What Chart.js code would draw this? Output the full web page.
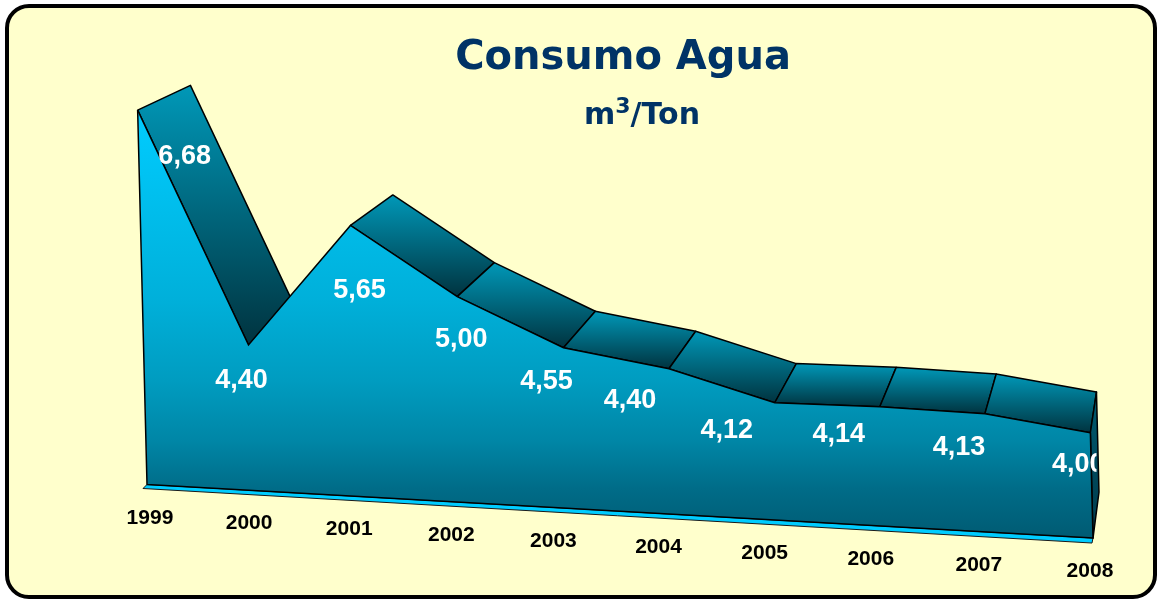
<!DOCTYPE html>
<html><head><meta charset="utf-8">
<script src="https://cdn.jsdelivr.net/npm/chart.js@4.4.1/dist/chart.umd.min.js"></script>
<style>html,body{margin:0;padding:0;background:#fff;overflow:hidden}canvas{display:block}</style>
</head><body>
<canvas id="c" width="1159" height="599"></canvas>
<script>
// ---- data ----
const years = ['1999','2000','2001','2002','2003','2004','2005','2006','2007','2008'];
const consumo = [6.68, 4.40, 5.65, 5.00, 4.55, 4.40, 4.12, 4.14, 4.13, 4.00];
const yMin = 2.95, yMax = 7.0;
const titleText = 'Consumo Agua';
const unitMain = 'm', unitSup = '3', unitRest = '/Ton';

// ---- style / perspective ----
const SHEAR_X = 0.025, SHEAR_Y = 0.0566;
const VP = {x: 1215, y: -396};
const DEPTH = 0.049;
const labelNudge = [[47,54],[-7,43],[9,73],[4,50],[-17,41],[-39,39],[-48,35],[-41,35],[-26,41],[-12,39]];
const yearNudge = [2,-4,-9,-12,-15,-15,-14,-13,-10,-4];

function fmt(v){ return v.toFixed(2).replace('.', ','); }
function tParams(chart){
  const a = chart.chartArea;
  return {a: SHEAR_X, s: SHEAR_Y, e: -SHEAR_X * a.bottom, f: -SHEAR_Y * a.left};
}
function P(t, u, v){ return {x: u + t.a * v + t.e, y: t.s * u + v + t.f}; }
function back(p){ return {x: p.x + DEPTH * (VP.x - p.x), y: p.y + DEPTH * (VP.y - p.y)}; }

function frontGradient(chart){
  const ctx = chart.ctx, area = chart.chartArea;
  const s = SHEAR_Y, Y0 = 110, Y1 = 540;
  const k = (Y1 - Y0) / (1 + s * s);
  const g = ctx.createLinearGradient(area.left, Y0, area.left + k * s, Y0 + k);
  g.addColorStop(0, '#00CCFF');
  g.addColorStop(0.44, '#00B0DA');
  g.addColorStop(0.63, '#009CC0');
  g.addColorStop(0.77, '#0086A6');
  g.addColorStop(0.88, '#006C88');
  g.addColorStop(1, '#005A72');
  return g;
}

const area3d = {
  id: 'area3d',
  beforeDraw(chart){
    const ctx = chart.ctx;
    ctx.save();
    ctx.fillStyle = '#ffffff';
    ctx.fillRect(0, 0, chart.width, chart.height);
    ctx.beginPath();
    ctx.roundRect(7, 6, 1148, 591, 22);
    ctx.fillStyle = '#FFFFCC';
    ctx.fill();
    ctx.lineWidth = 4;
    ctx.strokeStyle = '#000';
    ctx.stroke();
    ctx.restore();
  },
  beforeDatasetsDraw(chart){
    const ctx = chart.ctx, t = tParams(chart), area = chart.chartArea;
    const meta = chart.getDatasetMeta(0);
    const front = meta.data.map(pt => P(t, pt.x, pt.y));
    const backs = front.map(back);
    const bl = P(t, area.left, area.bottom), br = P(t, area.right, area.bottom);
    ctx.save();
    ctx.lineJoin = 'round';
    // floor strip
    ctx.beginPath();
    ctx.moveTo(bl.x, bl.y);
    ctx.lineTo(br.x, br.y);
    ctx.lineTo(br.x - 1, br.y + 5);
    ctx.lineTo(bl.x - 4, bl.y + 4);
    ctx.closePath();
    ctx.fillStyle = '#00CCFF';
    ctx.fill();
    ctx.lineWidth = 1;
    ctx.strokeStyle = '#1a1a1a';
    ctx.stroke();
    // top faces
    for (let i = 0; i < front.length - 1; i++){
      const A = front[i], B = front[i+1], A2 = backs[i], B2 = backs[i+1];
      const cross = (B.x - A.x) * (A2.y - A.y) - (B.y - A.y) * (A2.x - A.x);
      if (cross >= 0) continue;
      const ys = [A.y, B.y, A2.y, B2.y];
      const top = Math.min(...ys), bot = Math.max(...ys);
      const g = ctx.createLinearGradient(0, top, 0, bot);
      g.addColorStop(0, '#0098B8');
      g.addColorStop(1, '#00333F');
      ctx.beginPath();
      ctx.moveTo(A.x, A.y); ctx.lineTo(B.x, B.y); ctx.lineTo(B2.x, B2.y); ctx.lineTo(A2.x, A2.y);
      ctx.closePath();
      ctx.fillStyle = g;
      ctx.fill();
      ctx.lineWidth = 1.5;
      ctx.strokeStyle = '#000';
      ctx.stroke();
    }
    // right side face
    const R = front[front.length - 1], R2 = backs[backs.length - 1], brb = back(br);
    const gs = ctx.createLinearGradient(0, R2.y, 0, br.y);
    gs.addColorStop(0, '#005A70');
    gs.addColorStop(1, '#00394A');
    ctx.beginPath();
    ctx.moveTo(R.x, R.y); ctx.lineTo(R2.x, R2.y); ctx.lineTo(brb.x, brb.y); ctx.lineTo(br.x, br.y);
    ctx.closePath();
    ctx.fillStyle = gs;
    ctx.fill();
    ctx.lineWidth = 1.5;
    ctx.strokeStyle = '#000';
    ctx.stroke();
    ctx.restore();
    // shear for the library-drawn front face
    ctx.save();
    ctx.transform(1, t.s, t.a, 1, t.e, t.f);
  },
  afterDatasetsDraw(chart){
    const ctx = chart.ctx;
    ctx.restore();
    const t = tParams(chart), area = chart.chartArea;
    const meta = chart.getDatasetMeta(0);
    const front = meta.data.map(pt => P(t, pt.x, pt.y));
    const R2 = back(front[front.length - 1]);
    const bl = P(t, area.left, area.bottom), br = P(t, area.right, area.bottom);
    ctx.save();
    ctx.lineWidth = 1.5;
    ctx.strokeStyle = '#000';
    ctx.lineJoin = 'round';
    ctx.beginPath();
    ctx.moveTo(front[0].x, front[0].y);
    ctx.lineTo(bl.x, bl.y);
    ctx.lineTo(br.x, br.y);
    ctx.lineTo(front[front.length-1].x, front[front.length-1].y);
    ctx.stroke();
    // value labels (cut at the solid's right edge)
    ctx.save();
    ctx.beginPath();
    ctx.rect(0, 0, R2.x, chart.height);
    ctx.clip();
    ctx.fillStyle = '#ffffff';
    ctx.font = 'bold 27px "Liberation Sans", Arial, sans-serif';
    ctx.textAlign = 'center';
    ctx.textBaseline = 'alphabetic';
    front.forEach((p, i) => {
      ctx.fillText(fmt(consumo[i]), p.x + labelNudge[i][0], p.y + labelNudge[i][1]);
    });
    ctx.restore();
    // category labels
    ctx.fillStyle = '#000';
    ctx.textAlign = 'center';
    ctx.font = 'bold 21px "Liberation Sans", Arial, sans-serif';
    const xs = chart.scales.x;
    years.forEach((y, i) => {
      const p = P(t, xs.getPixelForTick(i), area.bottom + 39);
      ctx.fillText(y, p.x + yearNudge[i], p.y);
    });
    ctx.restore();
  },
  afterDraw(chart){
    const ctx = chart.ctx;
    ctx.save();
    ctx.fillStyle = '#003366';
    ctx.textBaseline = 'alphabetic';
    ctx.textAlign = 'center';
    ctx.font = 'bold 40px "DejaVu Sans", Verdana, sans-serif';
    ctx.fillText(titleText, 623, 69);
    ctx.textAlign = 'left';
    const f1 = 'bold 30px "DejaVu Sans", Verdana, sans-serif';
    const f2 = 'bold 22px "DejaVu Sans", Verdana, sans-serif';
    ctx.font = f1; const w1 = ctx.measureText(unitMain).width;
    ctx.font = f2; const w2 = ctx.measureText(unitSup).width;
    ctx.font = f1; const w3 = ctx.measureText(unitRest).width;
    let x = 642 - (w1 + w2 + w3) / 2;
    ctx.font = f1; ctx.fillText(unitMain, x, 124); x += w1;
    ctx.font = f2; ctx.fillText(unitSup, x, 113); x += w2;
    ctx.font = f1; ctx.fillText(unitRest, x, 124);
    ctx.restore();
  }
};

new Chart(document.getElementById('c'), {
  type: 'line',
  data: {
    labels: years,
    datasets: [{
      data: consumo,
      fill: 'start',
      backgroundColor: (c) => c.chart.chartArea ? frontGradient(c.chart) : '#0099CC',
      borderColor: '#000',
      borderWidth: 1.5,
      tension: 0,
      pointRadius: 0,
      pointHoverRadius: 0,
      clip: false
    }]
  },
  options: {
    responsive: false,
    devicePixelRatio: 1,
    animation: false,
    events: [],
    layout: {padding: {left: 147, right: 66, top: 78, bottom: 114.5}},
    plugins: {legend: {display: false}, tooltip: {enabled: false}, title: {display: false}},
    scales: {
      x: {type: 'category', offset: false, display: false},
      y: {min: yMin, max: yMax, display: false}
    }
  },
  plugins: [area3d]
});
</script>
</body></html>
